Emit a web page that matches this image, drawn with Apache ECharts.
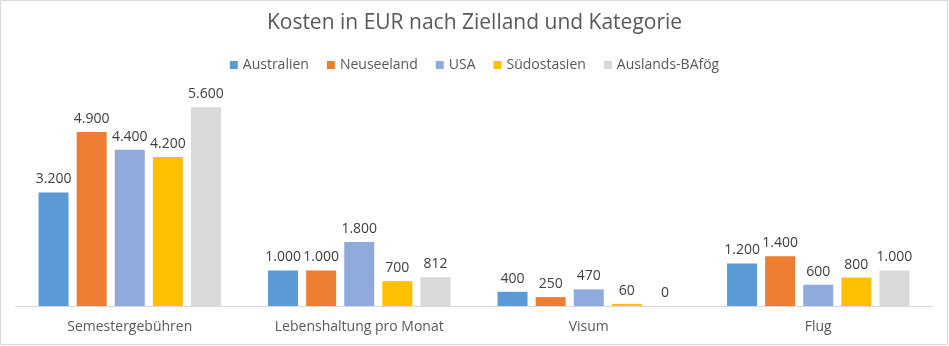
<!DOCTYPE html>
<html><head><meta charset="utf-8">
<script src="https://cdn.jsdelivr.net/npm/echarts@6/dist/echarts.min.js"></script>
<style>html,body{margin:0;padding:0;background:#fff}#c{width:949px;height:346px}</style>
</head><body><div id="c"></div>
<script>
const categories = ['Semestergebühren', 'Lebenshaltung pro Monat', 'Visum', 'Flug'];
const seriesNames = ['Australien', 'Neuseeland', 'USA', 'Südostasien', 'Auslands-BAfög'];
const australien = [3200, 1000, 400, 1200];
const neuseeland = [4900, 1000, 250, 1400];
const usa = [4400, 1800, 470, 600];
const suedostasien = [4200, 700, 60, 800];
const bafoeg = [5600, 812, 0, 1000];
const colors = ['#5B9BD5', '#ED7D31', '#8FAADC', '#FFC000', '#D9D9D9'];
const values = [australien, neuseeland, usa, suedostasien, bafoeg];

function fmt(v){ return String(v).replace(/\B(?=(\d{3})+(?!\d))/g, '.'); }

const font = "'Open Sans', sans-serif";
const chart = echarts.init(document.getElementById('c'), null, {renderer:'canvas'});
chart.setOption({
  animation: false,
  title: { text: 'Kosten in EUR nach Zielland und Kategorie', left: 'center', top: 8,
    textStyle: { fontFamily: font, fontSize: 21, fontWeight: 'normal', color: '#595959' } },
  legend: { top: 53, left: 'center', itemWidth: 8, itemHeight: 8, itemGap: 18, icon: 'rect',
    textStyle: { fontFamily: font, fontSize: 14, color: '#595959' }, data: seriesNames },
  graphic: [{ type: 'rect', shape: { x: 0.5, y: 0.5, width: 947, height: 344 },
    style: { fill: 'none', stroke: '#D9D9D9', lineWidth: 1 }, silent: true, z: -1 }],
  grid: { left: 15, right: 16, top: 93, bottom: 40 },
  xAxis: { type: 'category', data: categories,
    axisLine: { lineStyle: { color: '#D9D9D9', width: 1 } }, axisTick: { show: false },
    axisLabel: { fontFamily: font, fontSize: 14, color: '#595959', margin: 14 } },
  yAxis: { type: 'value', min: 0, max: 6000, show: false, splitLine: { show: false } },
  series: seriesNames.map((n, i) => ({
    name: n, type: 'bar', data: values[i], barWidth: 30, barGap: '27%',
    itemStyle: { color: colors[i] },
    label: { show: true, position: 'top', distance: 6, fontFamily: font, fontSize: 14, color: '#404040',
      formatter: p => fmt(p.value) }
  }))
});
</script></body></html>
